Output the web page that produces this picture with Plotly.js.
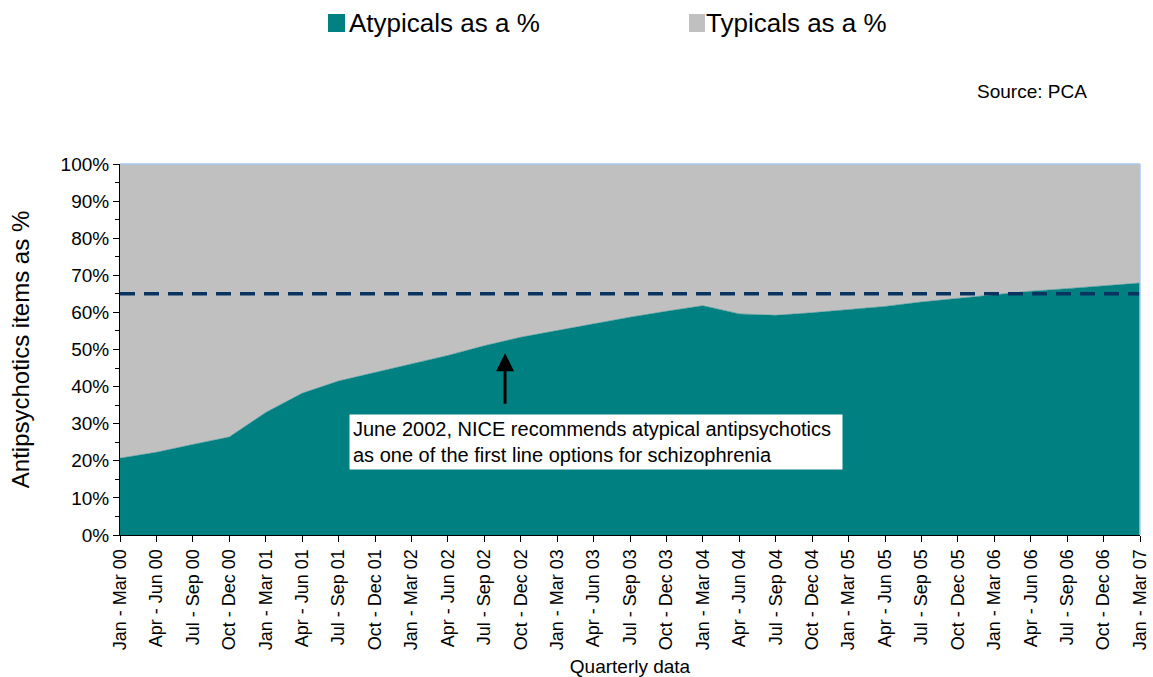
<!DOCTYPE html>
<html>
<head>
<meta charset="utf-8">
<script src="https://cdn.plot.ly/plotly-3.0.1.min.js"></script>
<style>html,body{margin:0;padding:0;background:#fff;}#chart{width:1153px;height:677px;}</style>
</head>
<body>
<div id="chart"></div>
<script>
// ---- Data ----
const quarters = [
  "Jan - Mar 00","Apr - Jun 00","Jul - Sep 00","Oct - Dec 00",
  "Jan - Mar 01","Apr - Jun 01","Jul - Sep 01","Oct - Dec 01",
  "Jan - Mar 02","Apr - Jun 02","Jul - Sep 02","Oct - Dec 02",
  "Jan - Mar 03","Apr - Jun 03","Jul - Sep 03","Oct - Dec 03",
  "Jan - Mar 04","Apr - Jun 04","Jul - Sep 04","Oct - Dec 04",
  "Jan - Mar 05","Apr - Jun 05","Jul - Sep 05","Oct - Dec 05",
  "Jan - Mar 06","Apr - Jun 06","Jul - Sep 06","Oct - Dec 06",
  "Jan - Mar 07"
];
const atypicalsPct = [
  20.7, 22.3, 24.4, 26.4,
  33.0, 38.2, 41.5, 43.8,
  46.0, 48.4, 51.0, 53.3,
  55.1, 57.0, 58.7, 60.3,
  61.8, 59.6, 59.2, 59.9,
  60.7, 61.6, 62.8, 63.8,
  64.9, 65.7, 66.4, 67.1,
  67.9
];
const typicalsPct = [
  79.3, 77.7, 75.6, 73.6,
  67.0, 61.8, 58.5, 56.2,
  54.0, 51.6, 49.0, 46.7,
  44.9, 43.0, 41.3, 39.7,
  38.2, 40.4, 40.8, 40.1,
  39.3, 38.4, 37.2, 36.2,
  35.1, 34.3, 33.6, 32.9,
  32.1
];
const seriesNames = ["Atypicals as a %", "Typicals as a %"];
const targetLevel = 65;
const noteText = "June 2002, NICE recommends atypical antipsychotics<br>as one of the first line options for schizophrenia";
const noteQuarter = "Jul - Sep 02";
const noteArrowFrom = 35;
const noteArrowTo = 49;
const sourceText = "Source: PCA";

// ---- Styles ----
const FONT = "Liberation Sans, Arial, Helvetica, sans-serif";
const TEAL = "#008080";
const GREY = "#C0C0C0";
const NAVY = "#0B3361";
const BORDER = "#A6CAF0";

// plot-area geometry helpers (paper coords)
const W = 1153, H = 677, L = 120, R = 1140, T = 164, B = 535;
const px = x => (x - L) / (R - L);
const py = y => (B - y) / (B - T);

const traces = [
  {
    x: quarters, y: atypicalsPct, name: seriesNames[0],
    type: "scatter", mode: "lines", stackgroup: "one",
    line: {width: 0.5, color: TEAL}, fillcolor: TEAL, hoverinfo: "x+y"
  },
  {
    x: quarters, y: typicalsPct, name: seriesNames[1],
    type: "scatter", mode: "lines", stackgroup: "one",
    line: {width: 0.5, color: GREY}, fillcolor: GREY, hoverinfo: "x+y"
  }
];

const layout = {
  width: W, height: H,
  margin: {l: L, r: W - R, t: T, b: H - B, pad: 0},
  paper_bgcolor: "#ffffff", plot_bgcolor: "#ffffff",
  showlegend: false,
  font: {family: FONT, color: "#000000", size: 18},
  xaxis: {
    type: "category", range: [0, quarters.length - 1],
    showgrid: false, zeroline: false,
    showline: true, linecolor: "#000000", linewidth: 1,
    ticks: "outside", ticklen: 6, tickcolor: "#000000", tickwidth: 1,
    tickangle: -90, tickfont: {family: FONT, size: 18, color: "#000000"},
    title: {text: "Quarterly data", font: {family: FONT, size: 19, color: "#000000"}, standoff: 10},
    automargin: false
  },
  yaxis: {
    range: [0, 100], dtick: 10, ticksuffix: "%",
    showgrid: false, zeroline: false,
    showline: true, linecolor: "#000000", linewidth: 1,
    ticks: "outside", ticklen: 6, tickcolor: "#000000", tickwidth: 1,
    minor: {dtick: 5, ticks: "outside", ticklen: 4, tickcolor: "#000000", showgrid: false},
    tickfont: {family: FONT, size: 19, color: "#000000"},
    title: {text: "Antipsychotics items as %", font: {family: FONT, size: 24, color: "#000000"}, standoff: 24},
    automargin: false
  },
  shapes: [
    // target level dashed line
    {type: "line", xref: "paper", yref: "y", x0: 0, x1: 1, y0: targetLevel, y1: targetLevel,
     line: {color: NAVY, width: 3.5, dash: "15px,9px"}},
    // light blue top & right plot border
    {type: "line", xref: "paper", yref: "paper", x0: 0, x1: 1, y0: 1, y1: 1, line: {color: BORDER, width: 1.5}},
    {type: "line", xref: "paper", yref: "paper", x0: 1, x1: 1, y0: 0, y1: 1, line: {color: BORDER, width: 1.5}},
    // legend swatches
    {type: "rect", xref: "paper", yref: "paper", x0: px(328), x1: px(345), y0: py(32), y1: py(14),
     fillcolor: TEAL, line: {width: 0}},
    {type: "rect", xref: "paper", yref: "paper", x0: px(689), x1: px(705), y0: py(32), y1: py(14),
     fillcolor: GREY, line: {width: 0}}
  ],
  annotations: [
    // legend texts
    {xref: "paper", yref: "paper", x: px(347), y: py(23), xanchor: "left", yanchor: "middle",
     text: seriesNames[0], showarrow: false, font: {family: FONT, size: 26, color: "#000000"}},
    {xref: "paper", yref: "paper", x: px(704), y: py(23), xanchor: "left", yanchor: "middle",
     text: seriesNames[1], showarrow: false, font: {family: FONT, size: 26, color: "#000000"}},
    // source
    {xref: "paper", yref: "paper", x: px(975), y: py(92), xanchor: "left", yanchor: "middle",
     text: sourceText, showarrow: false, font: {family: FONT, size: 19, color: "#000000"}},
    // arrow
    {xref: "x", yref: "y", axref: "x", ayref: "y",
     x: quarters.indexOf(noteQuarter) + 0.57, y: noteArrowTo,
     ax: quarters.indexOf(noteQuarter) + 0.57, ay: noteArrowFrom,
     text: "", showarrow: true, arrowhead: 2, arrowsize: 1.2, arrowwidth: 3, arrowcolor: "#000000"},
    // note box
    {xref: "paper", yref: "paper", x: px(349), y: py(414), xanchor: "left", yanchor: "top",
     text: noteText, showarrow: false, align: "left", valign: "middle",
     width: 486, height: 48, borderpad: 3, bgcolor: "#ffffff",
     font: {family: FONT, size: 20, color: "#000000"}}
  ]
};

Plotly.newPlot("chart", traces, layout, {displayModeBar: false, staticPlot: true});
</script>
</body>
</html>
